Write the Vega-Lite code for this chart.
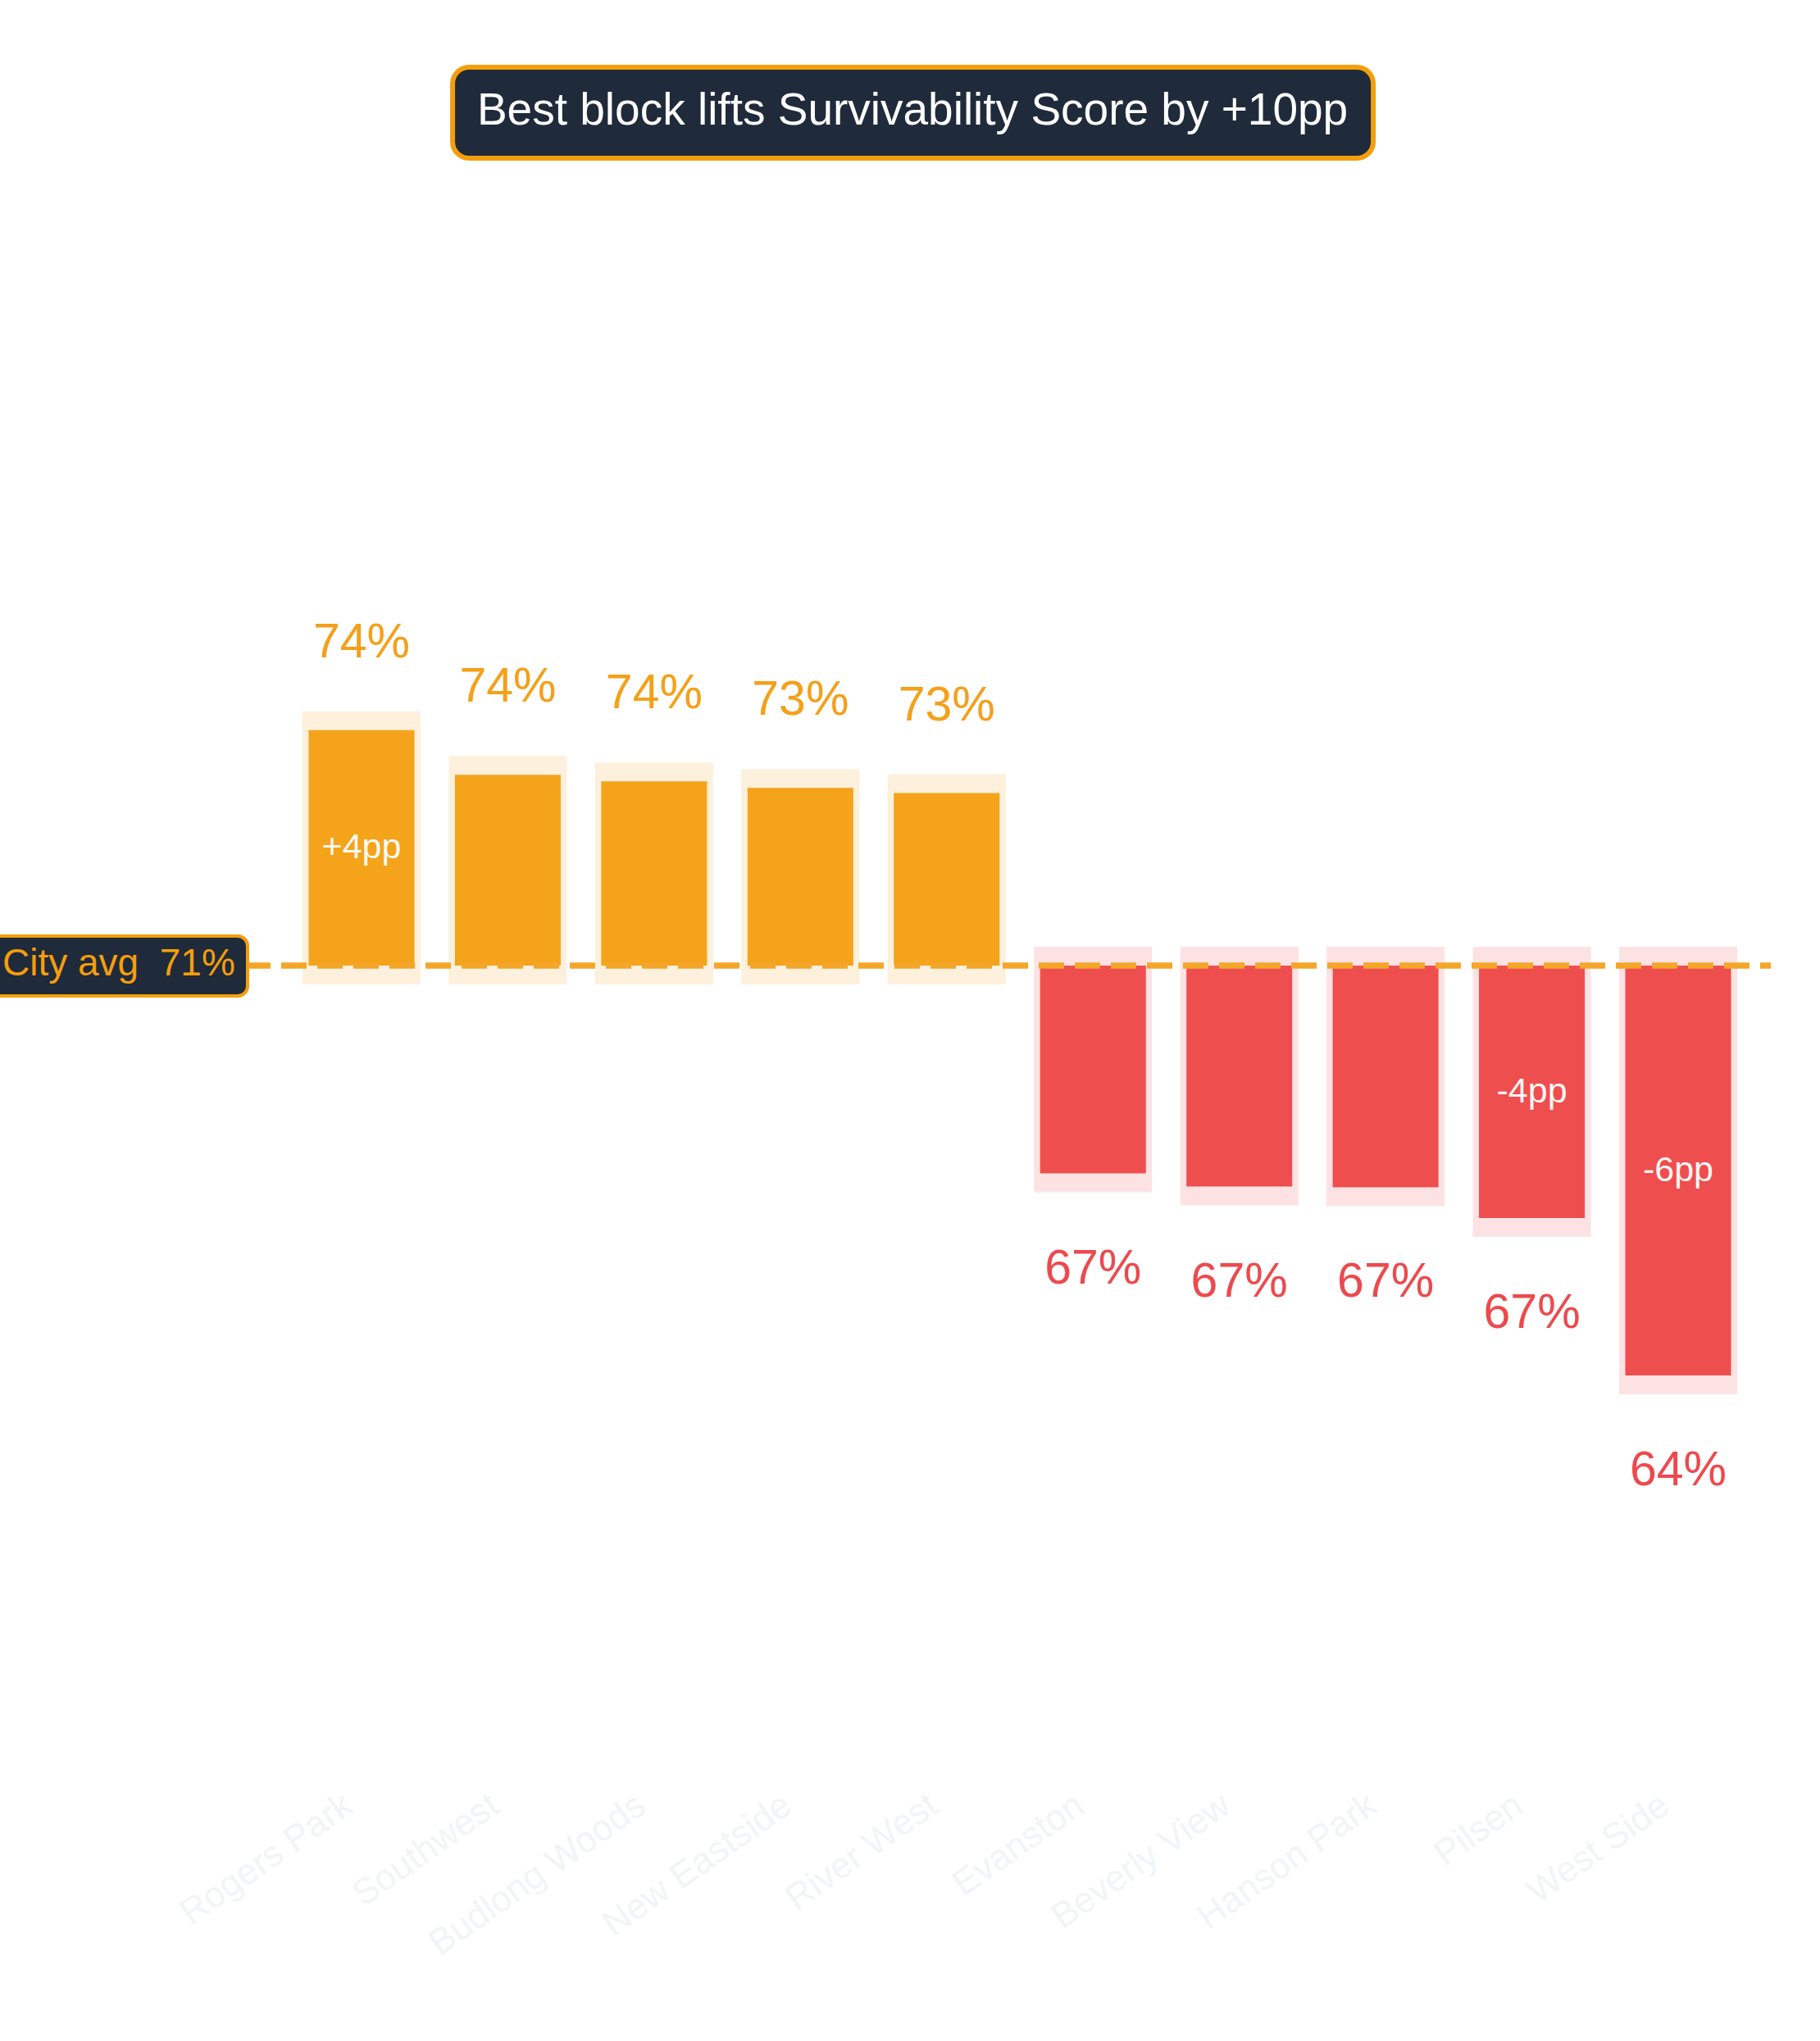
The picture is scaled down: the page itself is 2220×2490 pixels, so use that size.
{
  "$schema": "https://vega.github.io/schema/vega-lite/v6.json",
  "width": 2160,
  "height": 2170,
  "autosize": {"type": "none"},
  "padding": {"left": 0, "top": 0, "right": 60, "bottom": 320},
  "background": "#ffffff",
  "config": {"view": {"stroke": null}, "font": "Liberation Sans"},
  "resolve": {"scale": {"x": "independent"}},
  "layer": [
    {
      "data": {
        "values": [
          {"area": "Rogers Park", "score": 74.29, "pct": "74%", "delta": "+4pp"},
          {"area": "Southwest", "score": 73.61, "pct": "74%", "delta": ""},
          {"area": "Budlong Woods", "score": 73.51, "pct": "74%", "delta": ""},
          {"area": "New Eastside", "score": 73.41, "pct": "73%", "delta": ""},
          {"area": "River West", "score": 73.33, "pct": "73%", "delta": ""},
          {"area": "Evanston", "score": 67.53, "pct": "67%", "delta": ""},
          {"area": "Beverly View", "score": 67.33, "pct": "67%", "delta": ""},
          {"area": "Hanson Park", "score": 67.32, "pct": "67%", "delta": ""},
          {"area": "Pilsen", "score": 66.85, "pct": "67%", "delta": "-4pp"},
          {"area": "West Side", "score": 64.45, "pct": "64%", "delta": "-6pp"}
        ]
      },
      "layer": [
        {
          "mark": {"type": "bar", "width": {"band": 0.6806}, "strokeWidth": 46, "strokeJoin": "miter"},
          "encoding": {
            "x": {
              "field": "area", "type": "nominal", "sort": null, "title": null,
              "scale": {"range": [369, 2119], "paddingInner": 0.193, "paddingOuter": 0},
              "axis": {
                "domain": false, "ticks": false, "grid": false,
                "labelAngle": -35, "labelFontSize": 44, "labelColor": "#f2f4f7",
                "labelPadding": 10, "labelOffset": -28, "labelLimit": 0, "labelFont": "Liberation Sans"
              }
            },
            "y": {"field": "score", "type": "quantitative", "axis": null,
                  "scale": {"domain": [58.3, 85.425], "nice": false, "zero": false}},
            "y2": {"datum": 70.7},
            "color": {"condition": {"test": "datum.score >= 70.7", "value": "#fdf0dc"}, "value": "#fde2e4"},
            "stroke": {"condition": {"test": "datum.score >= 70.7", "value": "#fdf0dc"}, "value": "#fde2e4"}
          }
        },
        {
          "mark": {"type": "bar", "width": {"band": 0.896}},
          "encoding": {
            "x": {"field": "area", "type": "nominal", "sort": null},
            "y": {"field": "score", "type": "quantitative", "axis": null,
                  "scale": {"domain": [58.3, 85.425], "nice": false, "zero": false}},
            "y2": {"datum": 70.7},
            "color": {"condition": {"test": "datum.score >= 70.7", "value": "#f4a31a"}, "value": "#ef4e4e"}
          }
        },
        {
          "transform": [{"filter": "datum.score >= 70.7"}],
          "mark": {"type": "text", "fontSize": 59, "dy": -89, "baseline": "alphabetic", "align": "center", "color": "#f4a01a"},
          "encoding": {
            "x": {"field": "area", "type": "nominal", "sort": null},
            "y": {"field": "score", "type": "quantitative", "axis": null,
                  "scale": {"domain": [58.3, 85.425], "nice": false, "zero": false}},
            "text": {"field": "pct"}
          }
        },
        {
          "transform": [{"filter": "datum.score < 70.7"}],
          "mark": {"type": "text", "fontSize": 59, "dy": 134, "baseline": "alphabetic", "align": "center", "color": "#ec4a4e"},
          "encoding": {
            "x": {"field": "area", "type": "nominal", "sort": null},
            "y": {"field": "score", "type": "quantitative", "axis": null,
                  "scale": {"domain": [58.3, 85.425], "nice": false, "zero": false}},
            "text": {"field": "pct"}
          }
        },
        {
          "transform": [
            {"filter": "datum.delta != ''"},
            {"calculate": "(datum.score + 70.7) / 2", "as": "mid"}
          ],
          "mark": {"type": "text", "fontSize": 43, "baseline": "middle", "align": "center", "color": "#ffffff", "opacity": 0.95},
          "encoding": {
            "x": {"field": "area", "type": "nominal", "sort": null},
            "y": {"field": "mid", "type": "quantitative", "axis": null,
                  "scale": {"domain": [58.3, 85.425], "nice": false, "zero": false}},
            "text": {"field": "delta"}
          }
        }
      ]
    },
    {
      "data": {
        "values": [
          {"title": "Best block lifts Survivability Score by +10pp", "avg": 70.7, "avg_label": "City avg\u00a0 71%"}
        ]
      },
      "layer": [
        {
          "mark": {"type": "rule", "strokeDash": [31, 13], "strokeDashOffset": 18, "strokeWidth": 7.5, "color": "#f4a62a"},
          "encoding": {
            "y": {"field": "avg", "type": "quantitative", "axis": null,
                  "scale": {"domain": [58.3, 85.425], "nice": false, "zero": false}}
          }
        },
        {
          "mark": {"type": "rect", "fill": "#1f2a3b", "stroke": "#f59e0b", "strokeWidth": 4, "cornerRadius": 12},
          "encoding": {
            "x": {"datum": -0.0093, "type": "quantitative", "axis": null, "scale": {"domain": [0, 1], "nice": false, "zero": false}},
            "x2": {"datum": 0.1398},
            "y": {"datum": 71.15, "type": "quantitative", "axis": null,
                  "scale": {"domain": [58.3, 85.425], "nice": false, "zero": false}},
            "y2": {"datum": 70.2375}
          }
        },
        {
          "mark": {"type": "text", "fontSize": 46, "align": "left", "baseline": "alphabetic", "color": "#f59e0b"},
          "encoding": {
            "x": {"datum": 0.0014, "type": "quantitative", "axis": null, "scale": {"domain": [0, 1], "nice": false, "zero": false}},
            "y": {"datum": 70.55, "type": "quantitative", "axis": null,
                  "scale": {"domain": [58.3, 85.425], "nice": false, "zero": false}},
            "text": {"field": "avg_label"}
          }
        },
        {
          "mark": {"type": "rect", "fill": "#1f2a3b", "stroke": "#f59e0b", "strokeWidth": 6, "cornerRadius": 20},
          "encoding": {
            "x": {"datum": 0.2556, "type": "quantitative", "axis": null, "scale": {"domain": [0, 1], "nice": false, "zero": false}},
            "x2": {"datum": 0.7755},
            "y": {"datum": 84.4, "type": "quantitative", "axis": null,
                  "scale": {"domain": [58.3, 85.425], "nice": false, "zero": false}},
            "y2": {"datum": 83.0125}
          }
        },
        {
          "mark": {"type": "text", "fontSize": 55, "align": "center", "baseline": "alphabetic", "color": "#ffffff"},
          "encoding": {
            "x": {"datum": 0.5153, "type": "quantitative", "axis": null, "scale": {"domain": [0, 1], "nice": false, "zero": false}},
            "y": {"datum": 83.525, "type": "quantitative", "axis": null,
                  "scale": {"domain": [58.3, 85.425], "nice": false, "zero": false}},
            "text": {"field": "title"}
          }
        }
      ]
    }
  ]
}
